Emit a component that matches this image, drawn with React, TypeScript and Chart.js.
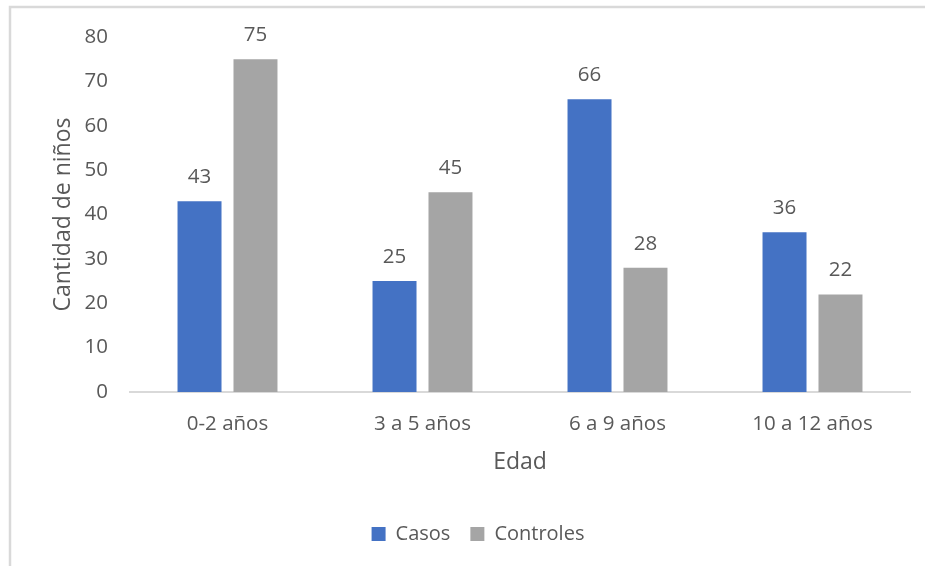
import React, { useEffect, useRef } from "react";
import { Chart, registerables } from "chart.js";

Chart.register(...registerables);

const categories: string[] = ["0-2 años", "3 a 5 años", "6 a 9 años", "10 a 12 años"];
const casos: number[] = [43, 25, 66, 36];
const controles: number[] = [75, 45, 28, 22];
const yTicks: number[] = [0, 10, 20, 30, 40, 50, 60, 70, 80];

const FONT = "'Open Sans', 'Noto Sans', sans-serif";
const TEXT = "#595959";
const LINE = "#d9d9d9";

// Light frame along the top and left edges of the chart box
const framePlugin = {
  id: "frame",
  beforeDraw(chart: any) {
    const { ctx, width, height } = chart;
    ctx.save();
    ctx.fillStyle = "#ffffff";
    ctx.fillRect(0, 0, width, height);
    ctx.strokeStyle = LINE;
    ctx.lineWidth = 2.5;
    ctx.beginPath();
    ctx.moveTo(10, height);
    ctx.lineTo(10, 7);
    ctx.lineTo(width, 7);
    ctx.stroke();
    ctx.restore();
  },
};

// Value labels above each bar
const valueLabels = {
  id: "valueLabels",
  afterDatasetsDraw(chart: any) {
    const { ctx } = chart;
    ctx.save();
    ctx.font = `20.5px ${FONT}`;
    ctx.fillStyle = TEXT;
    ctx.textAlign = "center";
    ctx.textBaseline = "middle";
    chart.data.datasets.forEach((ds: any, di: number) => {
      const meta = chart.getDatasetMeta(di);
      meta.data.forEach((bar: any, i: number) => {
        ctx.fillText(String(ds.data[i]), bar.x, bar.y - 24);
      });
    });
    ctx.restore();
  },
};

export default function App() {
  const ref = useRef<HTMLCanvasElement>(null);

  useEffect(() => {
    if (!ref.current) return;
    const chart = new Chart(ref.current, {
      type: "bar",
      data: {
        labels: categories,
        datasets: [
          { label: "Casos", data: casos, backgroundColor: "#4472C4" },
          { label: "Controles", data: controles, backgroundColor: "#A5A5A5" },
        ],
      },
      plugins: [framePlugin, valueLabels],
      options: {
        responsive: false,
        animation: false,
        datasets: {
          bar: { categoryPercentage: 0.574, barPercentage: 0.786 },
        },
        layout: { padding: { left: 46, top: 37, right: 15, bottom: 12 } },
        plugins: {
          tooltip: { enabled: false },
          legend: {
            position: "bottom",
            labels: {
              boxWidth: 14,
              boxHeight: 14,
              padding: 20,
              color: TEXT,
              font: { family: FONT, size: 20 },
            },
          },
        },
        scales: {
          x: {
            grid: { display: false, drawTicks: false },
            border: { display: true, color: LINE, width: 2 },
            ticks: { color: TEXT, font: { family: FONT, size: 20.5 }, padding: 20 },
            title: {
              display: true,
              text: "Edad",
              color: TEXT,
              font: { family: FONT, size: 23 },
              padding: { top: 0, bottom: 28 },
            },
            afterFit(scale: any) {
              scale.height = 112;
            },
          },
          y: {
            min: 0,
            max: 80,
            afterBuildTicks(scale: any) {
              scale.ticks = yTicks.map((v) => ({ value: v }));
            },
            grid: { display: false, drawTicks: false },
            border: { display: false },
            ticks: { color: TEXT, font: { family: FONT, size: 20.5 }, padding: 22 },
            title: {
              display: true,
              text: "Cantidad de niños",
              color: TEXT,
              font: { family: FONT, size: 23 },
              padding: { top: 4, bottom: 0 },
            },
            afterFit(scale: any) {
              scale.width = 84;
            },
          },
        },
      },
    });
    return () => chart.destroy();
  }, []);

  return (
    <div style={{ position: "fixed", left: 0, top: 0, width: 925, height: 566, background: "#fff" }}>
      <canvas ref={ref} width={925} height={566} />
    </div>
  );
}
